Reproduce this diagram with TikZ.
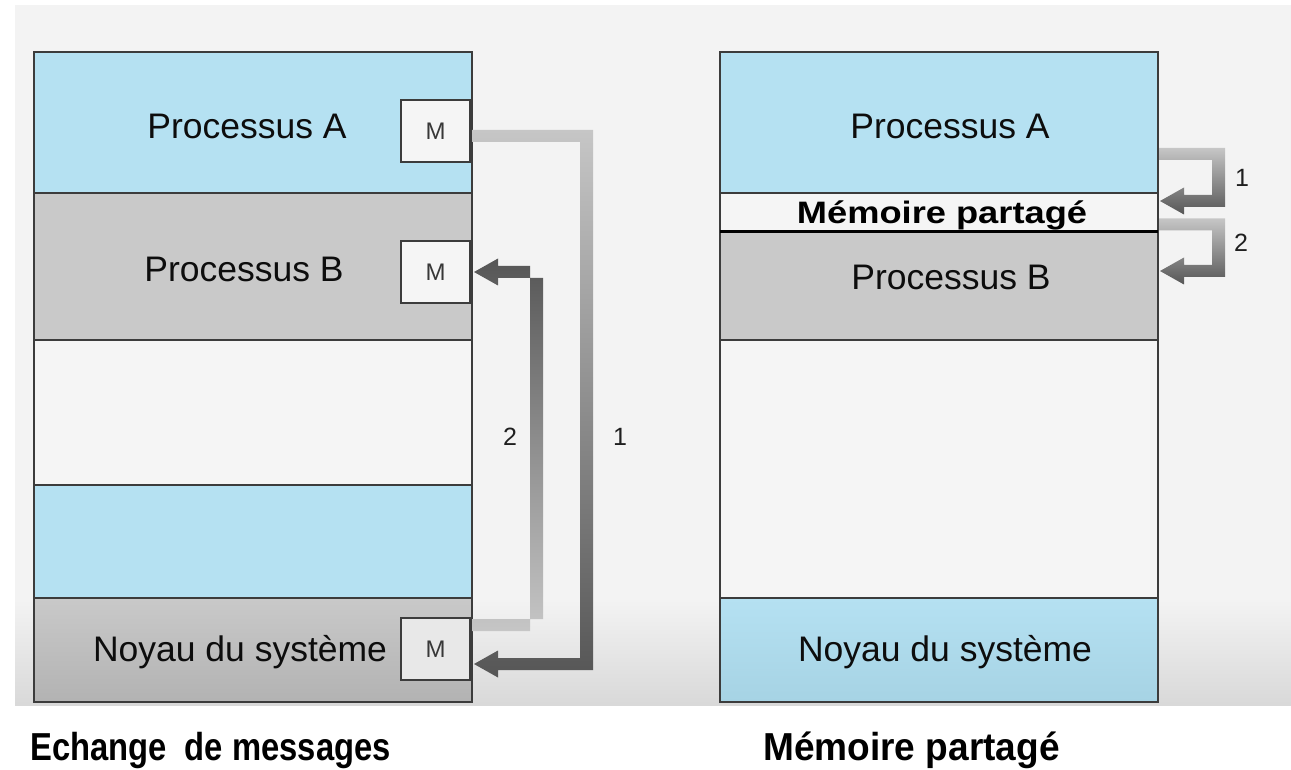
\documentclass[tikz,border=0pt]{standalone}
\usepackage{fontspec}
\setmainfont{Liberation Sans}
\usetikzlibrary{calc}
\definecolor{procblue}{HTML}{B5E1F2}
\definecolor{nucblue}{HTML}{A6D3E4}
\definecolor{procgray}{HTML}{C9C9C9}
\definecolor{bggray}{HTML}{F3F3F3}
\definecolor{bandwhite}{HTML}{F5F5F5}
\definecolor{edge}{HTML}{3C3C3C}
\definecolor{arrowlight}{HTML}{C6C6C6}
\definecolor{arrowdark}{HTML}{565656}

% U-shaped thick arrow: #1 shading, #2 start, #3 coordinate giving the x of the vertical leg, #4 tip
\newcommand{\bendarrow}[4]{%
  \shade[#1]
    ($(#2)+(0,-6)$) -- ($(#2 -| #3)+(6.5,-6)$) -- ($(#4 -| #3)+(6.5,6)$)
    -- ($(#4)+(24,6)$) -- ($(#4)+(24,13.5)$) -- (#4) -- ($(#4)+(24,-13.5)$)
    -- ($(#4)+(24,-6)$) -- ($(#4 -| #3)+(-6.5,-6)$) -- ($(#2 -| #3)+(-6.5,6)$)
    -- ($(#2)+(0,6)$) -- cycle;}

\begin{document}
\begin{tikzpicture}[x=1pt,y=-1pt,
  band/.style={draw=edge, line width=1.6pt, rectangle, inner sep=0pt, outer sep=0pt,
    anchor=north west},
  lbl/.style={anchor=base, inner sep=0pt, text=black!95,
    font=\fontsize{35.5}{40}\selectfont},
  mbox/.style={draw=edge, line width=2.2pt, fill=bandwhite, minimum width=69pt,
    minimum height=62pt, inner sep=0pt, outer sep=0pt, anchor=north west,
    font=\fontsize{24}{26}\selectfont, text=black!78},
  num/.style={inner sep=0pt, text=black!88, font=\fontsize{25}{27}\selectfont},
  title/.style={anchor=base west, inner sep=0pt, text=black,
    font=\fontsize{39}{44}\selectfont\bfseries}]

\useasboundingbox (0,0) rectangle (1291,770);
\fill[white] (0,0) rectangle (1291,770);
\fill[bggray] (15,5) rectangle (1291,705);
\shade[top color=bggray, bottom color=black!15] (15,600) rectangle (1291,705);

% ---------- left: message passing ----------
\node[band, fill=procblue,   minimum width=438pt, minimum height=141pt] (lA) at (34,52) {};
\node[band, fill=procgray,   minimum width=438pt, minimum height=147pt] (lB) at (34,193) {};
\node[band, fill=bandwhite,  minimum width=438pt, minimum height=145pt] (lE) at (34,340) {};
\node[band, fill=procblue,   minimum width=438pt, minimum height=113pt] (lC) at (34,485) {};
\node[band, top color=procgray, bottom color=black!30,
      minimum width=438pt, minimum height=104pt] (lN) at (34,598) {};
\draw[edge, line width=2pt] (lA.north west) rectangle (lN.south east);

\node[lbl] (tlA) at (247,139) {Processus A};
\node[lbl] (tlB) at (244,282) {Processus B};
\node[lbl] (tlN) at (240,661) {Noyau du système};

\node[mbox] (mA) at (401,100) {M};
\node[mbox] (mB) at (401,241) {M};
\node[mbox, fill=black!9] (mN) at (401,618) {M};

% message copy: A -> kernel (1), kernel -> B (2)
\coordinate (s1) at ($(mA.east)+(2,5)$);
\coordinate (t1) at ($(mN.east)+(4,15)$);
\coordinate (v1) at (586.5,0);
\bendarrow{top color=arrowlight, bottom color=arrowdark}{s1}{v1}{t1}

\coordinate (s2) at ($(mN.east)+(2,-24)$);
\coordinate (t2) at ($(mB.east)+(4,0)$);
\coordinate (v2) at (536.5,0);
\bendarrow{top color=arrowdark, bottom color=arrowlight}{s2}{v2}{t2}

\node[num] (n2) at (510,437) {2};
\node[num] (n1) at (620,437) {1};

% ---------- right: shared memory ----------
\node[band, fill=procblue,  minimum width=438pt, minimum height=141pt] (rA) at (720,52) {};
\node[band, fill=bandwhite, minimum width=438pt, minimum height=39pt]  (rM) at (720,193) {};
\node[band, fill=procgray,  minimum width=438pt, minimum height=108pt] (rB) at (720,232) {};
\node[band, fill=bandwhite, minimum width=438pt, minimum height=258pt] (rE) at (720,340) {};
\node[band, top color=procblue, bottom color=nucblue,
      minimum width=438pt, minimum height=104pt] (rN) at (720,598) {};
\draw[edge, line width=2pt] (rA.north west) rectangle (rN.south east);
\draw[black, line width=3pt] (rB.north west) -- (rB.north east);

\node[lbl] (trA) at (950,139) {Processus A};
\node[anchor=base, inner sep=0pt, text=black,
      font=\fontsize{31}{34}\selectfont\bfseries] (trM) at (942,224)
      {\scalebox{1.17}[1]{Mémoire partagé}};
\node[lbl] (trB) at (951,290) {Processus B};
\node[lbl] (trN) at (945,661) {Noyau du système};

% write to the shared area (1), read from it (2)
\coordinate (s3) at ($(rA.south east)+(1,-39)$);
\coordinate (t3) at ($(rM.east)+(2,-11.5)$);
\coordinate (v3) at (1218.5,0);
\bendarrow{top color=arrowlight, bottom color=arrowdark}{s3}{v3}{t3}

\coordinate (s4) at ($(rM.east)+(1,12)$);
\coordinate (t4) at ($(rB.north east)+(2,39)$);
\bendarrow{top color=arrowlight, bottom color=arrowdark}{s4}{v3}{t4}

\node[num] (n3) at (1242,178) {1};
\node[num] (n4) at (1241,243) {2};

% ---------- captions ----------
\node[title] (capL) at (30,760) {\scalebox{0.84}[1]{Echange~~de messages}};
\node[title] (capR) at (763,760) {\scalebox{0.95}[1]{Mémoire partagé}};
\end{tikzpicture}
\end{document}
